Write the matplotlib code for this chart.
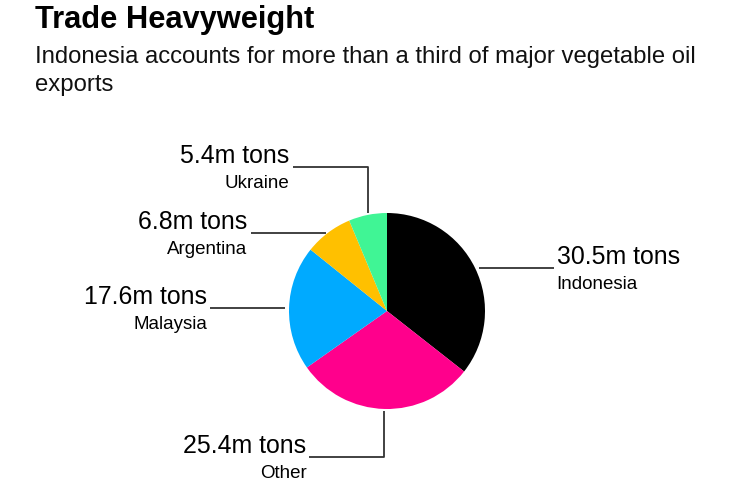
import numpy as np
import matplotlib
matplotlib.use("Agg")
import matplotlib.pyplot as plt

# ---- data ----
countries = ["Indonesia", "Other", "Malaysia", "Argentina", "Ukraine"]
exports_mt = [30.5, 25.4, 17.6, 6.8, 5.4]
value_labels = ["30.5m tons", "25.4m tons", "17.6m tons", "6.8m tons", "5.4m tons"]
colors = ["#000000", "#FF008C", "#00AAFF", "#FFC000", "#40F595"]
leader_kind = ["right", "down", "left", "left", "up"]

plt.rcParams["font.family"] = ["Liberation Sans", "DejaVu Sans"]

W, H = 736, 500
fig = plt.figure(figsize=(W / 100, H / 100), dpi=100)
fig.patch.set_facecolor("white")

def ftext(x, y, s, **kw):
    fig.text(x / W, 1 - y / H, s, **kw)

ftext(35, 28, "Trade Heavyweight", fontsize=22.2, fontweight="bold", va="baseline", ha="left")
ftext(35, 63, "Indonesia accounts for more than a third of major vegetable oil",
      fontsize=17.2, va="baseline", ha="left", color="#111111")
ftext(35, 91, "exports", fontsize=17.2, va="baseline", ha="left", color="#111111")

# pie axes: centre (387, 311) px, radius 98 px
cx, cy, R = 387, 311, 98
ax = fig.add_axes([(cx - R) / W, (H - cy - R) / H, 2 * R / W, 2 * R / H])
wedges, _ = ax.pie(exports_mt, colors=colors, startangle=90, counterclock=False,
                   radius=1, wedgeprops=dict(linewidth=0))
ax.set_xlim(-1, 1)
ax.set_ylim(-1, 1)
ax.set_aspect("equal")
ax.axis("off")

px = 1.0 / R
line_kw = dict(color="#333333", lw=1.3, clip_on=False, solid_capstyle="butt")
big = 17.9
small = 13.5
hlen = 75 * px

for w, kind, val, name in zip(wedges, leader_kind, value_labels, countries):
    ang = np.deg2rad((w.theta1 + w.theta2) / 2)
    ux, uy = np.cos(ang), np.sin(ang)
    if kind in ("right", "left"):
        x0 = 1.04 * ux
        y0 = uy
        sgn = 1 if kind == "right" else -1
        x1 = x0 + sgn * hlen
        ax.plot([x0, x1], [y0, y0], **line_kw)
        tx = x1 + sgn * 3 * px
        ha = "left" if kind == "right" else "right"
        ax.text(tx, y0 + 4 * px, val, fontsize=big, ha=ha, va="baseline", clip_on=False)
        ax.text(tx, y0 - 21 * px, name, fontsize=small, ha=ha, va="baseline", clip_on=False)
    else:
        x0 = ux
        y0 = 1.02 * uy
        sgn = 1 if kind == "up" else -1
        y1 = y0 + sgn * 46 * px
        x1 = x0 - hlen
        ax.plot([x0, x0, x1], [y0, y1, y1], **line_kw)
        tx = x1 - 3 * px
        ax.text(tx, y1 + 4 * px, val, fontsize=big, ha="right", va="baseline", clip_on=False)
        ax.text(tx, y1 - 21 * px, name, fontsize=small, ha="right", va="baseline", clip_on=False)

fig.savefig("out.png", dpi=100, facecolor="white")
